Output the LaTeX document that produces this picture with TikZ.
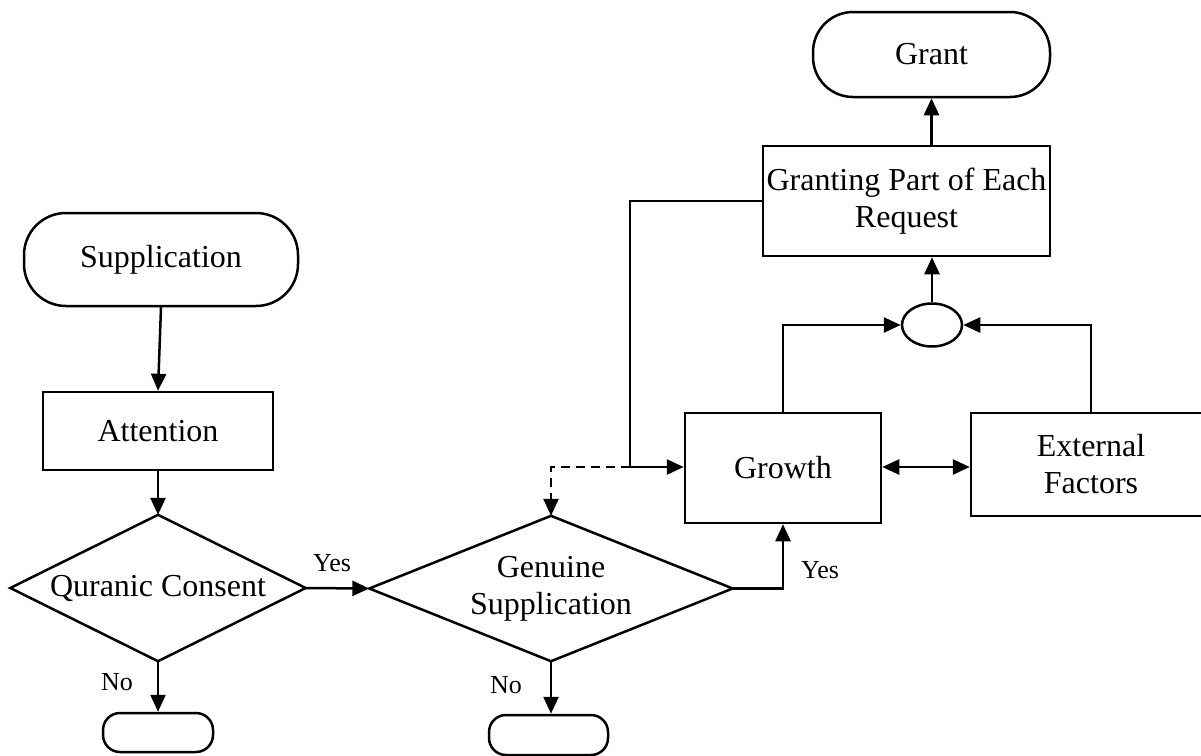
\documentclass[tikz,border=0pt]{standalone}
\usepackage{fontspec}
\setmainfont{Liberation Serif}
\usetikzlibrary{shapes.geometric,arrows.meta}
\begin{document}
\begin{tikzpicture}[x=1pt,y=-1pt,
  every node/.style={font=\fontsize{32}{37}\selectfont, inner sep=0pt},
  pill/.style={draw, line width=2.5pt, rectangle, rounded corners=#1},
  box/.style={draw, line width=2.5pt, rectangle, align=center},
  dia/.style={rectangle, align=center},
  diaedge/.style={line width=2.5pt, line join=miter},
  lbl/.style={font=\fontsize{26}{30}\selectfont},
  tip/.style={-{Triangle[length=17pt,width=15pt]}},
  conn/.style={line width=2.5pt, tip},
]
\path[use as bounding box] (0,0) rectangle (1201,755);
\clip (0,0) rectangle (1201,755);

\node[pill=42pt, minimum width=274pt, minimum height=93pt] (sup) at (161,259.5) {Supplication};
\node[box, minimum width=230pt, minimum height=78pt] (att) at (158,431) {Attention};
\node[dia, minimum width=295pt, minimum height=146pt] (qc) at (158,588) {Quranic Consent};
\draw[diaedge] (qc.north) -- (qc.east) -- (qc.south) -- (qc.west) -- cycle;
\node[pill=17pt, minimum width=110pt, minimum height=39pt] (end1) at (158,732.5) {};
\node[dia, minimum width=363pt, minimum height=145pt] (gs) at (551,588.5) {Genuine\\Supplication};
\draw[diaedge] (gs.north) -- (gs.east) -- (gs.south) -- (gs.west) -- cycle;
\node[pill=17pt, minimum width=119pt, minimum height=40pt] (end2) at (548.5,735) {};
\node[box, minimum width=196pt, minimum height=110pt] (growth) at (783,468) {Growth};
\node[box, minimum width=240pt, minimum height=103pt] (ext) at (1091,464.5) {External\\Factors};
\node[draw, line width=2.5pt, ellipse, minimum width=60pt, minimum height=43pt] (ell) at (932,325) {};
\node[box, minimum width=287pt, minimum height=110pt] (gpart) at (906.5,201) {Granting Part of Each\\Request};
\node[pill=40pt, minimum width=237pt, minimum height=85pt] (grant) at (931.5,54.5) {Grant};

\node[lbl] (yes1) at (332,563) {Yes};
\node[lbl] (yes2) at (820,570) {Yes};
\node[lbl] (no1) at (117,682) {No};
\node[lbl] (no2) at (506,685) {No};

\coordinate (j) at (630,467);
\coordinate (dk) at (551,498);

\draw[conn] (sup.south) -- (att.north);
\draw[conn] (att.south) -- (qc.north);
\draw[conn] (qc.east) -- (gs.west);
\draw[conn] (qc.south) -- (end1.north);
\draw[conn] (gs.south) -- (gs.south |- end2.north);
\draw[conn] (gs.east) -| (growth.south);
\draw[conn] (growth.north) |- (ell.west);
\draw[conn] (ext.north) |- (ell.east);
\draw[conn] (ell.north) -- (ell.north |- gpart.south);
\draw[conn] (grant.south |- gpart.north) -- (grant.south);
\draw[conn] (gpart.west) -| (j) -- (j -| growth.west);
\draw[line width=2.5pt, dash pattern=on 9pt off 6pt] (j) -| (dk);
\draw[conn] (dk) -- (gs.north);
\draw[line width=2.5pt, {Triangle[length=17pt,width=15pt]}-{Triangle[length=17pt,width=15pt]}] (growth.east |- j) -- (j -| ext.west);
\end{tikzpicture}
\end{document}
